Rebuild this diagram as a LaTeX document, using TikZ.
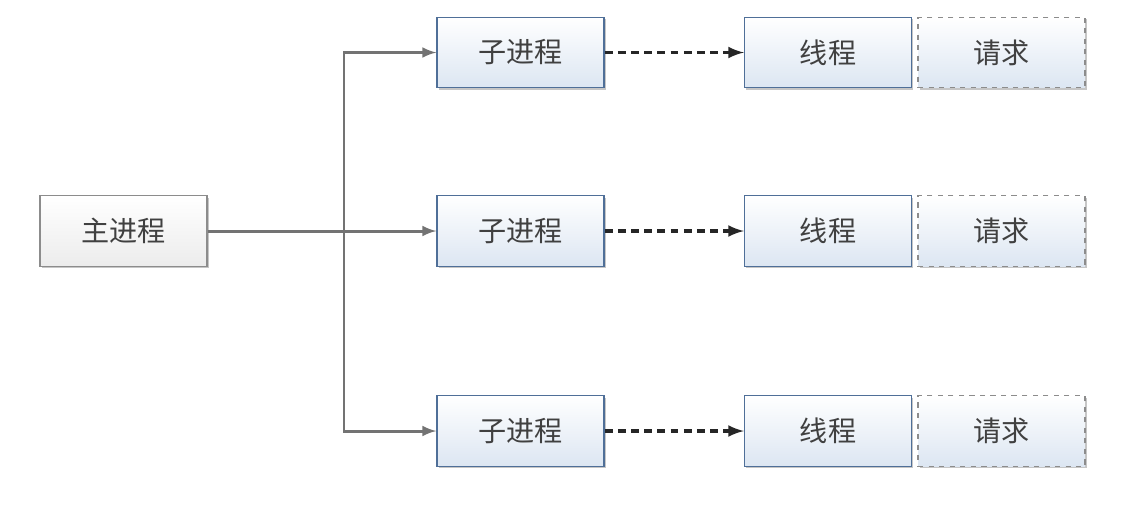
\documentclass[tikz,border=0pt]{standalone}
\usepackage{fontspec}
\setmainfont{Noto Sans CJK SC}
\usetikzlibrary{shadows}
\definecolor{boxline}{HTML}{4F6F98}
\definecolor{boxtop}{HTML}{FFFFFF}
\definecolor{boxbottom}{HTML}{DCE6F2}
\definecolor{txt}{HTML}{404040}
\tikzset{
  box/.style={draw=boxline, thick, top color=boxtop, bottom color=boxbottom,
    minimum width=3.34cm, minimum height=1.41cm, text=txt,
    font=\fontsize{16}{19}\selectfont,
    drop shadow={shadow xshift=1pt, shadow yshift=-1pt, opacity=0.45}},
  mainbox/.style={box, draw=gray!90, bottom color=gray!15},
  reqbox/.style={box, dashed, draw=gray!90},
  branch/.style={draw=gray!90!black, line width=1.7pt},
  feed/.style={branch, -latex},
  link/.style={draw=black!85, line width=2pt, dash pattern=on 4.5pt off 3pt, -latex}
}
\begin{document}
\begin{tikzpicture}[x=0.02cm, y=-0.02cm]
  \useasboundingbox (0,0) rectangle (1143,505);

  % Main process
  \node[mainbox] (main) at (123.5,231) {主进程};

  % Sub processes, threads and requests
  \foreach \i/\y in {1/52.5, 2/231, 3/431} {
    \node[box] (sub\i) at (520.5,\y) {子进程};
    \node[box] (thr\i) at (828,\y) {线程};
    \node[reqbox] (req\i) at (1001.5,\y) {请求};
    \draw[link] (sub\i) -- (thr\i);
  }

  % Fork lines
  \coordinate (fork) at (344,231);
  \draw[branch] (main) -- (fork);
  \draw[feed] (fork) -- (sub2);
  \draw[feed] (fork) |- (sub1);
  \draw[feed] (fork) |- (sub3);
\end{tikzpicture}
\end{document}
